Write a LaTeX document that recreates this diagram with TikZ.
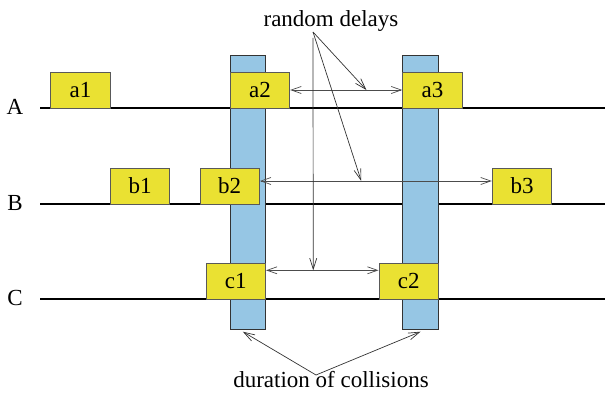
\documentclass[tikz,border=0pt]{standalone}
\usepackage{fontspec}
\setmainfont{Liberation Serif}
\usetikzlibrary{arrows.meta}
\definecolor{slotyellow}{RGB}{234,225,50}
\definecolor{collblue}{RGB}{150,198,228}
\begin{document}
\begin{tikzpicture}[x=1pt,y=-1pt,
  txt/.style={font=\fontsize{23}{26}\selectfont, inner sep=0pt},
  frame/.style={draw=black!65, fill=slotyellow, line width=0.9pt,
    minimum width=59.5pt, minimum height=36pt, inner sep=0pt,
    font=\fontsize{23}{26}\selectfont},
  channel/.style={line width=2.6pt},
  collision/.style={draw=black!80, fill=collblue, line width=0.8pt,
    inner sep=0pt, minimum width=35.7pt, minimum height=274.3pt},
  tip/.style={Straight Barb[length=10pt,width=7pt]},
  delay/.style={draw=black!70, line width=0.7pt, {Straight Barb[length=10pt,width=7pt]}-{Straight Barb[length=10pt,width=7pt]}},
  pointer/.style={draw=black!80, line width=0.7pt, -{Straight Barb[length=11pt,width=7pt]}}]

\useasboundingbox (0,0) rectangle (605,393);

% stations and their channels
\node[txt] (A) at (15,107) {A};
\node[txt] (B) at (15,203.5) {B};
\node[txt] (C) at (15,297.5) {C};
\coordinate (Aw) at (40,108);  \coordinate (Ae) at (605,108);
\coordinate (Bw) at (40,204);  \coordinate (Be) at (605,204);
\coordinate (Cw) at (40,299);  \coordinate (Ce) at (605,299);
\draw[channel] (Aw) -- (Ae);
\draw[channel] (Bw) -- (Be);
\draw[channel] (Cw) -- (Ce);

% collision intervals
\node[collision] (bar1) at (247.85,192.15) {};
\node[collision] (bar2) at (420.5,192.15) {};

% transmitted frames
\node[frame] (a1) at (80.5,90) {a1};
\node[frame] (a2) at (260,90) {a2};
\node[frame] (a3) at (432.5,90) {a3};
\node[frame] (b1) at (140,186) {b1};
\node[frame] (b2) at (229.7,186) {b2};
\node[frame] (b3) at (522,186) {b3};
\node[frame] (c1) at (235.8,281.3) {c1};
\node[frame] (c2) at (408.7,281.3) {c2};

% random back-off delays
\draw[delay] (a2.east) -- coordinate[pos=0.68] (da) (a2.east -| a3.west);
\draw[delay] ([yshift=5pt]b2.east) -- coordinate[pos=0.437] (db) ([yshift=5pt]b3.west);
\draw[delay] ([yshift=11pt]c1.east) -- coordinate[pos=0.42] (dc) ([yshift=11pt]c2.west);

% annotations
\node[txt, anchor=base] (rd) at (331,27) {random delays};
\coordinate (rdp) at (313,32);
\coordinate (rdv) at (313,38);
\draw[pointer] (rdp) -- (da);
\draw[pointer] (rdp) -- (db);
\draw[pointer] (rdv) -- (dc);

\node[txt, anchor=base] (dur) at (331,387) {duration of collisions};
\coordinate (durp) at (316,375);
\draw[pointer] (durp) -- ([xshift=-5pt,yshift=-2pt]bar1.south);
\draw[pointer] (durp) -- ([yshift=-2pt]bar2.south);
\end{tikzpicture}
\end{document}
